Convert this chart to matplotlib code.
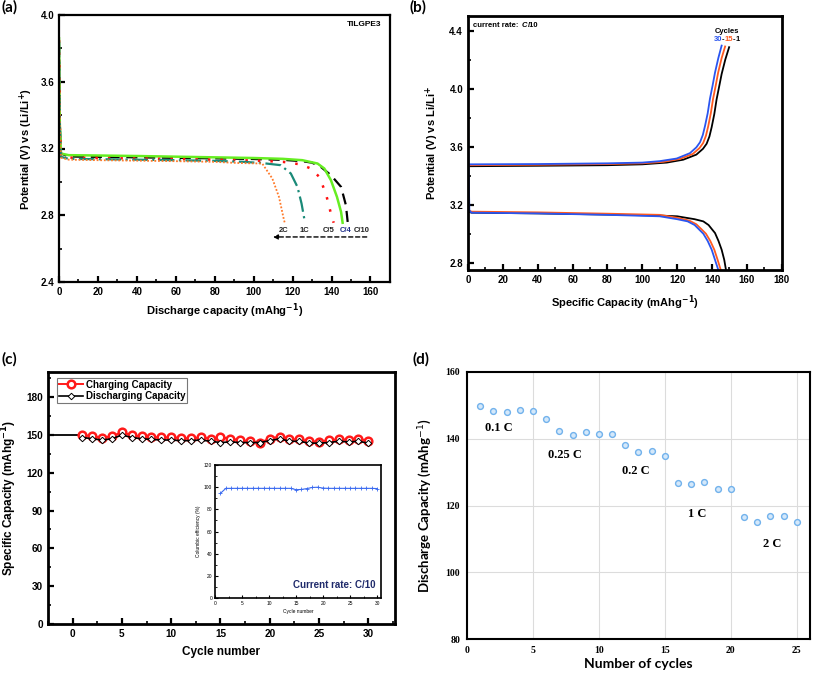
import matplotlib
matplotlib.use("Agg")
import matplotlib.pyplot as plt
import numpy as np
from matplotlib.offsetbox import HPacker, TextArea, AnnotationBbox
from matplotlib.ticker import MultipleLocator

plt.rcParams['font.family'] = ['Liberation Sans', 'DejaVu Sans']

# ---------------- Panel (a): discharge curves at different rates ----------------
a_c10_x = [0, 0.4, 1.0, 5, 20, 40, 60, 80, 100, 115, 125, 130, 134.5, 139.7, 144.9, 147.4, 148.3]
a_c10_y = [3.84, 3.35, 3.17, 3.152, 3.15, 3.147, 3.144, 3.141, 3.137, 3.132, 3.124, 3.115, 3.09, 3.04, 2.97, 2.86, 2.76]
a_c4_x = [0, 0.4, 1.0, 5, 20, 40, 60, 80, 100, 115, 125, 132.8, 136.3, 139.7, 142.8, 144.9, 145.7]
a_c4_y = [3.86, 3.35, 3.17, 3.16, 3.158, 3.155, 3.151, 3.147, 3.143, 3.138, 3.13, 3.11, 3.08, 3.01, 2.91, 2.82, 2.755]
a_c5_x = [0, 0.4, 1.0, 5, 20, 40, 60, 80, 100, 115, 124, 129.4, 133.7, 137.1, 139.7, 141.1]
a_c5_y = [3.85, 3.35, 3.16, 3.145, 3.143, 3.14, 3.137, 3.133, 3.128, 3.12, 3.105, 3.08, 3.03, 2.93, 2.81, 2.755]
a_1c_x = [0, 0.4, 1.0, 5, 20, 40, 60, 80, 95, 105, 113.9, 119.1, 122.5, 124.6, 126.3]
a_1c_y = [3.84, 3.33, 3.15, 3.138, 3.136, 3.133, 3.13, 3.126, 3.12, 3.112, 3.10, 3.05, 2.97, 2.87, 2.76]
a_2c_x = [0, 0.4, 1.0, 5, 20, 40, 60, 80, 92, 104.4, 109.6, 113.0, 115.6, 116.0]
a_2c_y = [3.86, 3.33, 3.145, 3.133, 3.13, 3.127, 3.124, 3.12, 3.113, 3.11, 3.02, 2.91, 2.77, 2.755]
a_labels = ['2C', '1C', 'C/5', 'C/4', 'C/10']
a_label_x = [115.3, 126.3, 138.5, 147.4, 155.5]

# ---------------- Panel (b): charge / discharge at cycles 1, 15, 30 ----------------
b_ch30_x = [0.3, 40, 80, 100, 110, 119.7, 127.3, 131, 133.1, 134.7, 136, 137.5, 138.8, 140.3, 141.7, 143.6, 145.5]
b_ch30_y = [3.478, 3.48, 3.485, 3.49, 3.50, 3.518, 3.555, 3.595, 3.63, 3.68, 3.744, 3.83, 3.93, 4.02, 4.11, 4.21, 4.296]
b_ch15_x = [0.3, 40, 80, 100, 112, 121.5, 129, 132.8, 134.9, 136.5, 137.8, 139.3, 140.6, 142.1, 143.5, 145.5, 147.5]
b_ch15_y = [3.472, 3.475, 3.48, 3.485, 3.495, 3.515, 3.55, 3.59, 3.625, 3.675, 3.74, 3.83, 3.93, 4.02, 4.11, 4.21, 4.29]
b_ch1_x = [0.3, 40, 80, 100, 114, 123.5, 131, 134.8, 136.9, 138.5, 139.8, 141.3, 142.6, 144.1, 145.5, 147.6, 149.8]
b_ch1_y = [3.465, 3.468, 3.472, 3.478, 3.49, 3.51, 3.545, 3.585, 3.62, 3.67, 3.735, 3.825, 3.925, 4.015, 4.10, 4.20, 4.285]
b_dis30_x = [0, 0.3, 0.8, 2, 40, 80, 110, 120, 126, 130, 132.5, 135, 137.5, 139.8, 141.7, 143.6]
b_dis30_y = [3.86, 3.5, 3.16, 3.145, 3.14, 3.13, 3.12, 3.10, 3.085, 3.06, 3.03, 3.0, 2.95, 2.89, 2.82, 2.75]
b_dis15_x = [0.8, 2, 40, 80, 110, 120, 127, 131, 134, 136.5, 139, 141.3, 143.2, 145.0]
b_dis15_y = [3.16, 3.152, 3.147, 3.138, 3.13, 3.11, 3.09, 3.065, 3.03, 3.0, 2.95, 2.89, 2.82, 2.75]
b_dis1_x = [0.8, 2, 40, 80, 110, 120, 130, 135, 138, 140, 141.7, 143.7, 145.5, 147, 148]
b_dis1_y = [3.15, 3.145, 3.14, 3.132, 3.125, 3.12, 3.10, 3.085, 3.06, 3.03, 3.005, 2.95, 2.89, 2.82, 2.75]

# ---------------- Panel (c): cycling at C/10 ----------------
c_cycles = list(range(1, 31))
c_charge = [150.2, 148.9, 147.9, 148.9, 152.3, 149.7, 148.9, 148.4, 148.1, 148.1,
            147.6, 147.3, 148.1, 147.1, 148.1, 147.1, 146.0, 145.0, 143.9, 147.1,
            148.7, 146.5, 146.5, 145.0, 144.7, 145.8, 146.5, 146.3, 146.8, 145.5]
c_discharge = [148.0, 147.0, 146.0, 147.0, 150.0, 148.0, 147.0, 146.5, 146.0, 146.0,
               145.5, 145.5, 146.0, 145.0, 144.0, 144.5, 144.0, 144.0, 144.0, 145.5,
               147.0, 145.0, 145.0, 143.5, 143.5, 144.0, 145.0, 144.5, 145.0, 143.5]
c_lead_x = [-3, 1]
c_lead_y = [150.0, 150.0]
c_eff = [94.5, 99.0, 99.0, 99.0, 99.0, 99.0, 99.0, 99.0, 99.0, 99.0,
         99.0, 99.0, 99.0, 99.0, 97.8, 98.0, 98.8, 99.8, 100.0, 99.2,
         99.0, 99.0, 99.0, 99.0, 99.0, 99.0, 99.0, 99.0, 99.0, 98.8]

# ---------------- Panel (d): rate capability ----------------
d_cycles = list(range(1, 26))
d_capacity = [149.8, 148.4, 148.0, 148.5, 148.3, 145.9, 142.2, 141.1, 141.9, 141.4,
              141.3, 138.0, 136.1, 136.2, 134.8, 126.6, 126.5, 126.9, 125.0, 125.0,
              116.5, 115.0, 116.8, 116.8, 115.0]
d_labels = ['0.1 C', '0.25 C', '0.2 C', '1 C', '2 C']
d_label_x = [2.45, 7.45, 12.8, 17.45, 23.1]
d_label_y = [143.2, 135.0, 130.2, 117.6, 108.5]

fig = plt.figure(figsize=(8.13, 6.75), dpi=100)

def style_in(ax, lw=1.6, ls=7):
    for s in ax.spines.values():
        s.set_linewidth(lw)
    ax.tick_params(which='major', direction='in', length=4, width=1.6, labelsize=ls)
    ax.tick_params(which='minor', direction='in', length=2, width=1.2)
    for lab in ax.get_xticklabels() + ax.get_yticklabels():
        lab.set_fontweight('bold')

# ---- (a)
axa = fig.add_axes([0.0726, 0.5822, 0.407, 0.3956])
axa.plot(a_c10_x, a_c10_y, color='black', lw=1.6, ls=(0, (5, 3)))
axa.plot(a_c4_x, a_c4_y, color='#66ee22', lw=1.8)
axa.plot(a_c5_x, a_c5_y, color='#ff1010', lw=1.8, ls=(0, (1, 4)))
axa.plot(a_1c_x, a_1c_y, color='#1a8a78', lw=1.6, ls=(0, (7, 2, 1, 2)))
axa.plot(a_2c_x, a_2c_y, color='#ff7a2a', lw=1.3, ls=(0, (1, 1)))
for lab, x in zip(a_labels, a_label_x):
    axa.text(x, 2.708, lab, fontsize=5.5, fontweight='bold', ha='center', va='center',
             color='#1f2f8a' if lab == 'C/4' else '#222222')
axa.annotate('', xy=(108.5, 2.67), xytext=(159.5, 2.67),
             arrowprops=dict(arrowstyle='-|>', color='black', lw=1.0, ls=(0, (3, 2)),
                             mutation_scale=7))
axa.text(156.5, 3.94, 'TILGPE3', fontsize=6, fontweight='bold', ha='center', va='center')
axa.set_xlim(0, 170)
axa.set_ylim(2.4, 4.0)
axa.set_xticks(np.arange(0, 161, 20))
axa.set_yticks([2.4, 2.8, 3.2, 3.6, 4.0])
axa.xaxis.set_minor_locator(MultipleLocator(10))
axa.yaxis.set_minor_locator(MultipleLocator(0.2))
axa.set_xlabel('Discharge capacity (mAhg$^{\\mathbf{-1}}$)', fontsize=8, fontweight='bold', labelpad=3)
axa.set_ylabel('Potential (V) vs (Li/Li$^{\\mathbf{+}}$)', fontsize=8, fontweight='bold', labelpad=4)
style_in(axa, 1.6, 7)

# ---- (b)
axb = fig.add_axes([0.5756, 0.600, 0.386, 0.3763])
blue, orange = '#2a55f0', '#ff5a1f'
axb.plot(b_ch1_x, b_ch1_y, color='black', lw=1.3)
axb.plot(b_ch15_x, b_ch15_y, color=orange, lw=1.3)
axb.plot(b_ch30_x, b_ch30_y, color=blue, lw=1.3)
axb.plot(b_dis1_x, b_dis1_y, color='black', lw=1.3)
axb.plot(b_dis15_x, b_dis15_y, color=orange, lw=1.3)
axb.plot(b_dis30_x, b_dis30_y, color=blue, lw=1.3)
axb.set_xlim(0, 180)
axb.set_ylim(2.75, 4.5)
axb.set_xticks(np.arange(0, 181, 20))
axb.set_yticks([2.8, 3.2, 3.6, 4.0, 4.4])
axb.xaxis.set_minor_locator(MultipleLocator(10))
axb.yaxis.set_minor_locator(MultipleLocator(0.2))
axb.text(3, 4.435, 'current rate: ', fontsize=5.5, fontweight='bold', ha='left', va='center')
axb.text(30.8, 4.435, 'C', fontsize=5.5, fontweight='bold', style='italic', ha='left', va='center')
axb.text(34.6, 4.435, '/10', fontsize=5.5, fontweight='bold', ha='left', va='center')
axb.text(148.3, 4.395, 'Cycles', fontsize=5.5, fontweight='bold', ha='center', va='center')
parts = [('30', blue), ('-', 'black'), ('15', orange), ('-', 'black'), ('1', 'black')]
pack = HPacker(children=[TextArea(t, textprops=dict(color=c, fontsize=5.5, fontweight='bold'))
                         for t, c in parts], pad=0, sep=0)
ab = AnnotationBbox(pack, (148.3, 4.335), xycoords='data', frameon=False, box_alignment=(0.5, 0.5))
axb.add_artist(ab)
axb.set_xlabel('Specific Capacity (mAhg$^{\\mathbf{-1}}$)', fontsize=8, fontweight='bold', labelpad=6)
axb.set_ylabel('Potential (V) vs Li/Li$^{\\mathbf{+}}$', fontsize=8, fontweight='bold', labelpad=6)
style_in(axb, 2.0, 7)

# ---- (c)
axc = fig.add_axes([0.059, 0.0756, 0.4268, 0.3733])
axc.plot(c_lead_x, c_lead_y, color='black', lw=1.3)
axc.plot(c_cycles, c_charge, color='#ff1a1a', lw=1.4, marker='o', ms=5.5, mfc='white',
         mec='#ff1a1a', mew=1.8, label='Charging Capacity', zorder=3)
axc.plot(c_cycles, c_discharge, color='black', lw=1.2, marker='D', ms=3.3, mfc='white',
         mec='black', mew=0.7, label='Discharging Capacity', zorder=4)
axc.set_xlim(-2.5, 32.7)
axc.set_ylim(0, 200)
axc.set_xticks(np.arange(0, 31, 5))
axc.set_yticks(np.arange(0, 181, 30))
axc.xaxis.set_minor_locator(MultipleLocator(2.5))
axc.yaxis.set_minor_locator(MultipleLocator(15))
leg = axc.legend(loc='upper left', bbox_to_anchor=(0.02, 0.985), fontsize=7, frameon=True,
                 fancybox=False, edgecolor='#555555', borderpad=0.2, handlelength=2.5,
                 labelspacing=0.15, handletextpad=0.3, borderaxespad=0.2)
leg.get_frame().set_linewidth(0.8)
for t in leg.get_texts():
    t.set_fontweight('bold')
axc.set_xlabel('Cycle number', fontsize=8.5, fontweight='bold', labelpad=5)
axc.set_ylabel('Specific Capacity (mAhg$^{\\mathbf{-1}}$)', fontsize=8.5, fontweight='bold', labelpad=5)
style_in(axc, 2.0, 7.2)

# inset
axi = fig.add_axes([0.2645, 0.114, 0.204, 0.197])
axi.plot(c_cycles, c_eff, color='#3a6af0', lw=0.8, marker='+', ms=3, mew=0.6)
axi.set_xlim(0, 30.7)
axi.set_ylim(0, 120)
axi.set_xticks(np.arange(0, 31, 5))
axi.set_yticks(np.arange(0, 121, 20))
axi.xaxis.set_minor_locator(MultipleLocator(2.5))
axi.yaxis.set_minor_locator(MultipleLocator(10))
for s in axi.spines.values():
    s.set_linewidth(1.2)
axi.tick_params(which='major', direction='in', length=2.5, width=0.8, labelsize=3.5, pad=2)
axi.tick_params(which='minor', direction='in', length=1.5, width=0.6)
axi.set_xlabel('Cycle number', fontsize=3.5, labelpad=2)
axi.set_ylabel('Columbic efficiency (%)', fontsize=3.5, labelpad=2)
axi.text(0.97, 0.1, 'Current rate: C/10', transform=axi.transAxes, ha='right', va='center',
         fontsize=7, fontweight='bold', color='#1f2a6b')

# ---- (d)
axd = fig.add_axes([0.5744, 0.0533, 0.4219, 0.3956])
axd.grid(True, color='#dcdcdc', lw=0.8)
axd.set_axisbelow(True)
axd.plot(d_cycles, d_capacity, ls='none', marker='o', ms=4.2, mfc='#d4e8fa', mec='#72b2ec', mew=1.0)
for lab, x, y in zip(d_labels, d_label_x, d_label_y):
    axd.text(x, y, lab, fontsize=9, fontweight='bold', family='Liberation Serif', ha='center', va='center')
axd.set_xlim(0, 26)
axd.set_ylim(80, 160)
axd.set_xticks(np.arange(0, 26, 5))
axd.set_yticks(np.arange(80, 161, 20))
for s in axd.spines.values():
    s.set_linewidth(1.5)
axd.tick_params(length=0, labelsize=7, pad=5)
for lab in axd.get_xticklabels() + axd.get_yticklabels():
    lab.set_fontfamily('Liberation Serif')
    lab.set_fontweight('bold')
axd.set_xlabel('Number of cycles', fontsize=10, fontweight='bold', family='Lato', labelpad=2)
axd.set_ylabel('Discharge Capacity (mAhg$^{-1}$)', fontsize=9.5, fontweight='bold', family='Lato', labelpad=8)

# panel letters
for x, y, t in [(0.002, 1.0, '(a)'), (0.504, 1.0, '(b)'), (0.002, 0.479, '(c)'), (0.507, 0.479, '(d)')]:
    fig.text(x, y, t, fontsize=11, fontweight='bold', family='Lato', ha='left', va='top')

fig.savefig('out.png', dpi=100)
